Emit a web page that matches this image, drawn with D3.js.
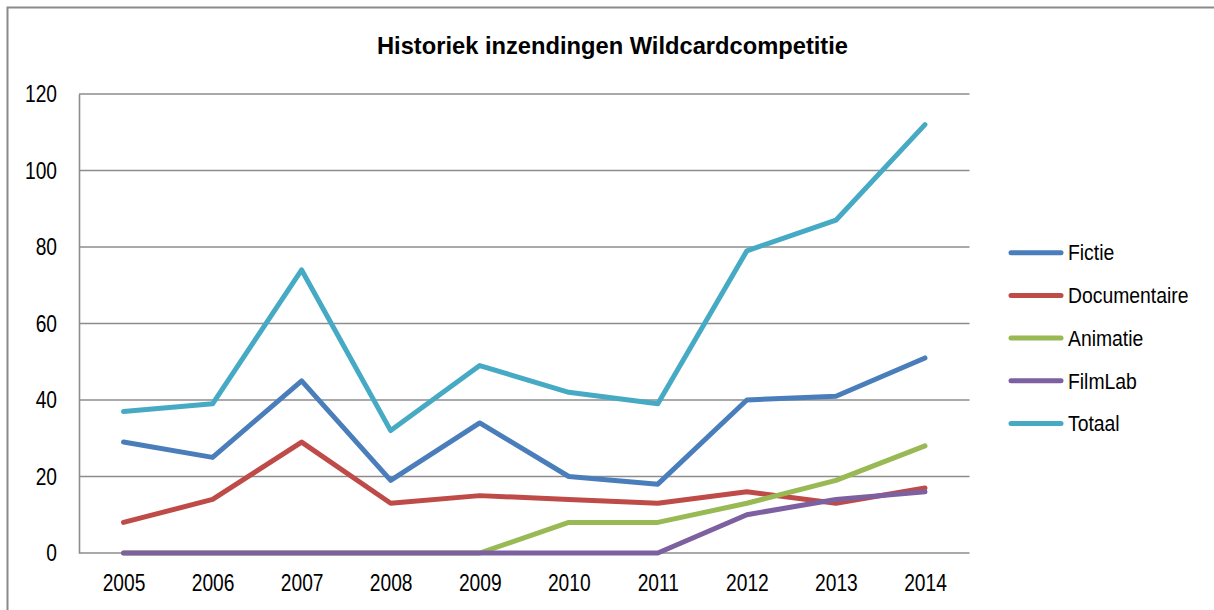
<!DOCTYPE html>
<html><head><meta charset="utf-8">
<script src="https://cdn.jsdelivr.net/npm/d3@7"></script>
<style>
body{margin:0;background:#fff;}
text{font-family:"Liberation Sans Narrow","Arial Narrow","Liberation Sans",Arial,sans-serif;}
</style></head>
<body><svg id="c" width="1214" height="610"></svg>
<script>
const years = ["2005","2006","2007","2008","2009","2010","2011","2012","2013","2014"];
const fictie = [29,25,45,19,34,20,18,40,41,51];
const documentaire = [8,14,29,13,15,14,13,16,13,17];
const animatie = [0,0,0,0,0,8,8,13,19,28];
const filmlab = [0,0,0,0,0,0,0,10,14,16];
const totaal = [37,39,74,32,49,42,39,79,87,112];
const seriesNames = ["Fictie","Documentaire","Animatie","FilmLab","Totaal"];
const seriesColors = ["#4A7EBB","#BE4B48","#98B954","#7D60A0","#46AAC5"];
const yTicks = [0,20,40,60,80,100,120];
const title = "Historiek inzendingen Wildcardcompetitie";

const series = [fictie, documentaire, animatie, filmlab, totaal];
const svg = d3.select("#c");
const SX = 0.8;   // horizontal condensing of axis labels
const LSX = 0.88; // horizontal condensing of legend labels

// outer frame
svg.append("rect").attr("x",7.5).attr("y",7.5).attr("width",1220).attr("height",620)
  .attr("fill","none").attr("stroke","#8a8a8a").attr("stroke-width",2);

const L=79, R=969.5, T=94, B=553;
const x = d3.scalePoint().domain(years).range([L,R]).padding(0.5);
const y = d3.scaleLinear().domain([0,120]).range([B,T]);

// gridlines
svg.append("g").selectAll("line").data(yTicks.filter(d=>d>0)).join("line")
  .attr("x1",L).attr("x2",R).attr("y1",d=>y(d)).attr("y2",d=>y(d))
  .attr("stroke","#8c8c8c").attr("stroke-width",1.6);

// axes
const yAxis = svg.append("g").attr("transform",`translate(${L},0)`)
  .call(d3.axisLeft(y).tickValues(yTicks).tickSize(0).tickPadding(22));
yAxis.select(".domain").attr("stroke","#8c8c8c").attr("stroke-width",1.6);
yAxis.selectAll("text").attr("font-size",24).attr("fill","#000")
  .attr("x",-22/SX).attr("transform",`scale(${SX},1)`);

const xAxis = svg.append("g").attr("transform",`translate(0,${B})`)
  .call(d3.axisBottom(x).tickSize(0).tickPadding(21));
xAxis.select(".domain").attr("stroke","#8c8c8c").attr("stroke-width",1.6).attr("d",`M${L},0H${R}`);
xAxis.selectAll("text").attr("font-size",24).attr("fill","#000")
  .attr("transform",`scale(${SX},1)`);

// lines
const line = d3.line().x((d,i)=>x(years[i])).y(d=>y(d));
svg.append("g").selectAll("path").data(series).join("path")
  .attr("d",line).attr("fill","none")
  .attr("stroke",(d,i)=>seriesColors[i]).attr("stroke-width",5)
  .attr("stroke-linejoin","round").attr("stroke-linecap","round");

// title
svg.append("text").attr("x",612.5).attr("y",53.5).attr("text-anchor","middle")
  .attr("font-size",24).attr("font-weight","bold").attr("fill","#000")
  .attr("textLength",471).attr("lengthAdjust","spacingAndGlyphs").text(title);

// legend
const lg = svg.append("g").selectAll("g").data(seriesNames).join("g")
  .attr("transform",(d,i)=>`translate(1009,${252.7+i*42.7})`);
lg.append("line").attr("x1",2).attr("x2",52).attr("y1",0).attr("y2",0)
  .attr("stroke",(d,i)=>seriesColors[i]).attr("stroke-width",5).attr("stroke-linecap","round");
lg.append("text").attr("transform",`translate(59,0) scale(${LSX},1)`).attr("dy","0.35em")
  .attr("font-size",22).attr("fill","#000").text(d=>d);
</script></body></html>
